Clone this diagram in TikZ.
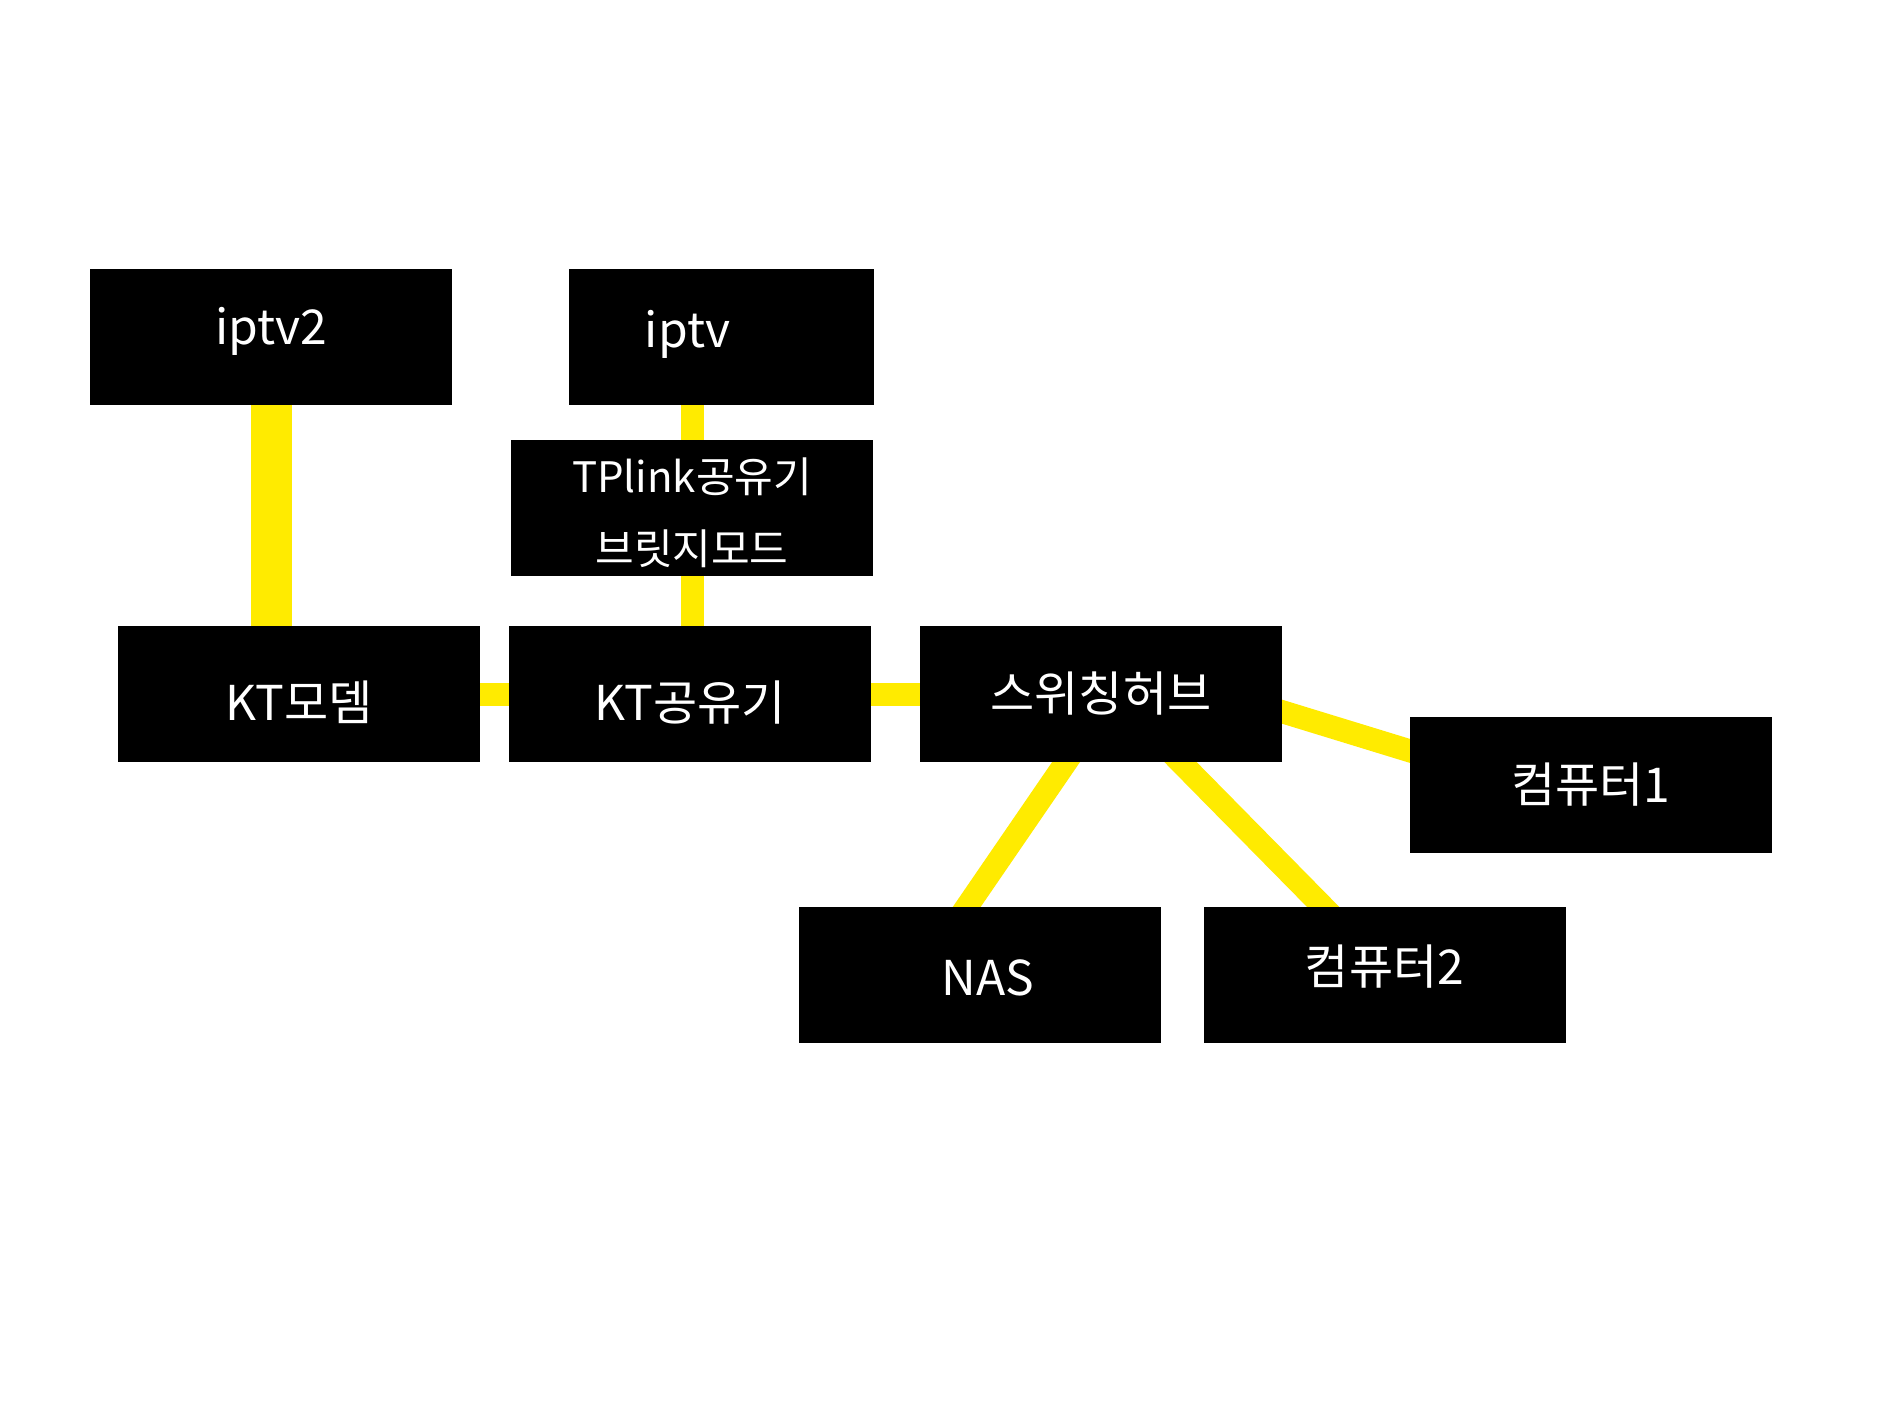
\documentclass[tikz,border=0pt]{standalone}
\usepackage{fontspec}
\setmainfont{Noto Sans CJK KR}
\usetikzlibrary{calc, backgrounds}
\definecolor{cableyellow}{RGB}{255,235,0}

\tikzset{
  devbox/.style={fill=black, minimum width=181pt, minimum height=68pt, inner sep=0pt},
  devtext/.style={text=white, inner sep=0pt, font=\fontsize{24}{29}\selectfont},
  cable/.style={draw=cableyellow, line width=11.5pt, shorten <=-8pt, shorten >=-8pt},
}

\begin{document}
\begin{tikzpicture}[x=0.5pt, y=-0.5pt]
    \useasboundingbox (0,0) rectangle (1890,1417);

    % Devices
    \node[devbox, label={[devtext, yshift=3pt]center:iptv2}] (iptv2) at (271,337) {};
    \node[devbox, minimum width=152.5pt, label={[devtext, xshift=-17pt, yshift=1.5pt]center:iptv}] (iptv) at (721.5,337) {};
    \node[devbox, label={[devtext, font=\fontsize{21}{36}\selectfont, align=center, yshift=-2.5pt]center:{TPlink공유기\\브릿지모드}}] (tplink) at (692,508) {};
    \node[devbox, label={[devtext, yshift=-4pt]center:KT모뎀}] (modem) at (299,694) {};
    \node[devbox, label={[devtext, yshift=-4.5pt]center:KT공유기}] (ktap) at (690,694) {};
    \node[devbox, label={[devtext]center:스위칭허브}] (hub) at (1101,694) {};
    \node[devbox, label={[devtext]center:컴퓨터1}] (pc1) at (1591,785) {};
    \node[devbox, label={[devtext, xshift=4pt, yshift=-1.5pt]center:NAS}] (nas) at (980,975) {};
    \node[devbox, label={[devtext, yshift=4pt]center:컴퓨터2}] (pc2) at (1384.5,975) {};

    % Cables
    \begin{scope}[on background layer]
        \fill[white] (0,0) rectangle (1890,1417);
        \draw[cable, line width=20.5pt] (iptv2.south) -- (iptv2.south |- modem.north);
        \draw[cable] (tplink.north |- iptv.south) -- (tplink.north);
        \draw[cable] (tplink.south) -- (tplink.south |- ktap.north);
        \draw[cable] (modem.east) -- (ktap.west);
        \draw[cable] (ktap.east) -- (hub.west);
        \draw[cable] ($(hub.north east)!0.63!(hub.south east)$) -- ($(pc1.north west)!0.25!(pc1.south west)$);
        \draw[cable] ($(hub.south west)!0.403!(hub.south east)$) -- ($(nas.north west)!0.464!(nas.north east)$);
        \draw[cable] ($(hub.south west)!0.72!(hub.south east)$) -- ($(pc2.north west)!0.33!(pc2.north east)$);
    \end{scope}
\end{tikzpicture}
\end{document}
